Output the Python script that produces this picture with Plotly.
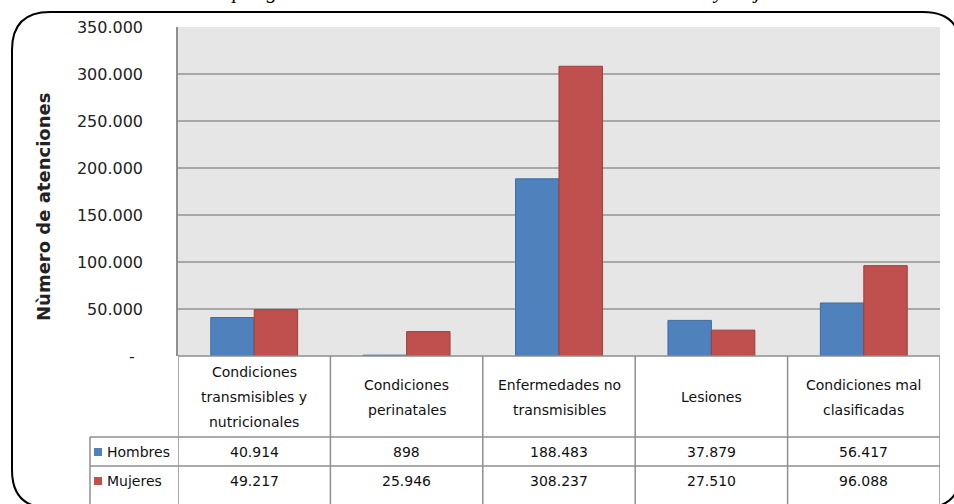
import plotly.graph_objects as go

# ---------------- data ----------------
categories = [
    "Condiciones\ntransmisibles y\nnutricionales",
    "Condiciones\nperinatales",
    "Enfermedades no\ntransmisibles",
    "Lesiones",
    "Condiciones mal\nclasificadas",
]
series_names = ["Hombres", "Mujeres"]
hombres = [40914, 898, 188483, 37879, 56417]
mujeres = [49217, 25946, 308237, 27510, 96088]
y_tickvals = [0, 50000, 100000, 150000, 200000, 250000, 300000, 350000]
y_ticktext = ["-\u00a0\u2009", "50.000", "100.000", "150.000", "200.000",
              "250.000", "300.000", "350.000"]
y_title = "Nùmero de atenciones"
title_text = "Atenciones por grandes causas de morbilidad atendidas en hombres y mujeres"

# ---------------- layout helpers ----------------
W, H = 954, 504
L, R, T, B = 178, 14, 27, 148
PW, PH = W - L - R, H - T - B


def px(x):
    return (x - L) / PW


def py(y):
    return 1 - (y - T) / PH


def fmt(v):
    return f"{v:,}".replace(",", ".")


cat_keys = [c.replace("\n", " ") for c in categories]
colors = ["#4F81BD", "#C0504D"]
edge = ["#3d6ba3", "#9e3e3b"]
values = [hombres, mujeres]

fig = go.Figure()
for name, vals, c, e in zip(series_names, values, colors, edge):
    fig.add_trace(go.Bar(x=cat_keys, y=vals, name=name,
                         marker=dict(color=c, line=dict(color=e, width=1))))

FONT = "DejaVu Sans"
shapes = []
annotations = []
line_col = "#8f8f8f"

# table top line (plot bottom)
shapes.append(dict(type="line", xref="paper", yref="paper",
                   x0=px(178), x1=px(940), y0=py(356), y1=py(356),
                   line=dict(color=line_col, width=1.5)))
# row lines
for yy in (437, 466):
    shapes.append(dict(type="line", xref="paper", yref="paper",
                       x0=px(90), x1=px(940), y0=py(yy), y1=py(yy),
                       line=dict(color=line_col, width=1.5)))
# column lines from category scale
for i in range(len(cat_keys) + 1):
    shapes.append(dict(type="line", xref="x", yref="paper",
                       x0=i - 0.5, x1=i - 0.5, y0=py(356), y1=py(512),
                       line=dict(color=line_col, width=1.5)))
# table left border for legend column
shapes.append(dict(type="line", xref="paper", yref="paper",
                   x0=px(90), x1=px(90), y0=py(437), y1=py(512),
                   line=dict(color=line_col, width=1.5)))

# header texts
for key, cat in zip(cat_keys, categories):
    lines = cat.split("\n")
    n = len(lines)
    for k, ln in enumerate(lines):
        yy = 397 + (k - (n - 1) / 2) * 25
        annotations.append(dict(x=key, y=py(yy), xref="x", yref="paper",
                                text=ln, showarrow=False, xanchor="center",
                                yanchor="middle",
                                font=dict(family=FONT, size=14, color="#111")))

# value rows with legend keys
row_y = [452, 481]
for name, vals, c, yy in zip(series_names, values, colors, row_y):
    for key, v in zip(cat_keys, vals):
        annotations.append(dict(x=key, y=py(yy), xref="x", yref="paper",
                                text=fmt(v), showarrow=False, xanchor="center",
                                yanchor="middle",
                                font=dict(family=FONT, size=14, color="#111")))
    shapes.append(dict(type="rect", xref="paper", yref="paper",
                       x0=px(94), x1=px(102), y0=py(yy + 4), y1=py(yy - 4),
                       fillcolor=c, line=dict(width=0)))
    annotations.append(dict(x=px(105), y=py(yy), xref="paper", yref="paper",
                            text=name, showarrow=False, xanchor="left",
                            yanchor="middle",
                            font=dict(family=FONT, size=14, color="#111")))

# y axis title
annotations.append(dict(x=px(43), y=py(207), xref="paper", yref="paper",
                        text="<b>" + y_title + "</b>", showarrow=False,
                        textangle=-90, xanchor="center", yanchor="middle",
                        font=dict(family=FONT, size=18, color="#222")))

# cut-off title at very top
annotations.append(dict(x=px(464), y=py(-9), xref="paper", yref="paper",
                        text="<i>" + title_text + "</i>", showarrow=False,
                        xanchor="center", yanchor="middle",
                        font=dict(family="Liberation Serif", size=21, color="#000")))

# rounded frame (pixel path converted to paper)
r = 38
x0f, x1f, y0f, y1f = 12, 961, 12, 508
pts = [
    ("M", [(x0f, y1f - r)]),
    ("L", [(x0f, y0f + r)]),
    ("Q", [(x0f, y0f), (x0f + r, y0f)]),
    ("L", [(x1f - r, y0f)]),
    ("Q", [(x1f, y0f), (x1f, y0f + r)]),
    ("L", [(x1f, y1f - r)]),
    ("Q", [(x1f, y1f), (x1f - r, y1f)]),
    ("L", [(x0f + r, y1f)]),
    ("Q", [(x0f, y1f), (x0f, y1f - r)]),
]
path = ""
for cmd, ps in pts:
    path += cmd + " " + " ".join(f"{px(a):.5f},{py(b):.5f}" for a, b in ps) + " "
path += "Z"
shapes.append(dict(type="path", xref="paper", yref="paper", path=path,
                   line=dict(color="#000", width=2), fillcolor="rgba(0,0,0,0)"))

fig.update_layout(
    width=W, height=H,
    margin=dict(l=L, r=R, t=T, b=B, pad=0),
    paper_bgcolor="white", plot_bgcolor="#e6e6e6",
    showlegend=False,
    bargap=0.43, bargroupgap=0,
    barmode="group",
    shapes=shapes, annotations=annotations,
    xaxis=dict(showticklabels=False, showgrid=False, zeroline=False,
               showline=False, ticks="", categoryorder="array",
               categoryarray=cat_keys, range=[-0.5, len(cat_keys) - 0.5]),
    yaxis=dict(range=[0, 350000], tickvals=y_tickvals, ticktext=y_ticktext,
               showgrid=True, gridcolor="#a8a8a8", gridwidth=2,
               zeroline=False, showline=True, linecolor=line_col, linewidth=1.5,
               ticks="", ticklabelstandoff=30,
               tickfont=dict(family=FONT, size=16, color="#222")),
)

fig.write_html("out.html",
               config={"displayModeBar": False},
               post_script="document.body.style.margin='0';"
                           "document.body.style.overflow='hidden';")
